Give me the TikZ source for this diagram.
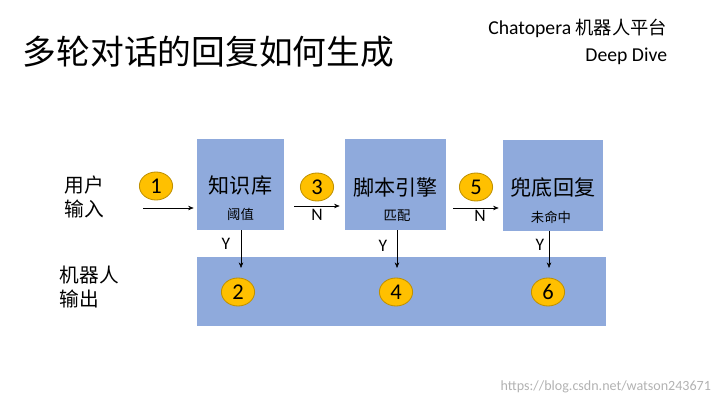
\documentclass[tikz,border=0pt]{standalone}
\usepackage{fontspec}
\setmainfont{Carlito}
\newfontfamily\cjk{Noto Sans CJK SC}
\usetikzlibrary{shapes.geometric,positioning,arrows.meta}
\definecolor{boxblue}{HTML}{8FAADC}
\definecolor{numfill}{HTML}{FFC000}
\definecolor{numedge}{HTML}{BF9000}

\begin{document}
\begin{tikzpicture}[x=0.025cm,y=-0.025cm,>={Stealth[length=4pt,width=3.2pt]},
  blk/.style={fill=boxblue,inner sep=0pt,minimum height=2.275cm},
  num/.style={ellipse,fill=numfill,draw=numedge,semithick,inner sep=0pt,
    minimum width=0.83cm,minimum height=0.7cm,font=\fontsize{16}{16}\selectfont},
  main/.style={font=\cjk\fontsize{15}{15}\selectfont},
  sub/.style={font=\cjk\fontsize{9.5}{10}\selectfont},
  side/.style={font=\cjk\fontsize{14}{17}\selectfont,align=left,anchor=west},
  yn/.style={font=\fontsize{12.5}{12.5}\selectfont},
  flow/.style={->,thin}]
  \useasboundingbox (0,0) rectangle (723,406);

  % title and platform
  \node[anchor=west,font=\cjk\fontsize{24}{24}\selectfont] (title) at (18,52) {多轮对话的回复如何生成};
  \node[anchor=east,font=\fontsize{14}{14}\selectfont] (plat) at (672,28) {Chatopera {\cjk\fontsize{13}{13}\selectfont 机器人平台}};
  \node[anchor=east,font=\fontsize{14}{14}\selectfont] (dive) at (672,56) {Deep Dive};

  % blocks
  \node[blk,minimum width=2.175cm] (kb) at (240.5,184.5) {};
  \node[blk,minimum width=2.525cm] (se) at (395.5,184.5) {};
  \node[blk,minimum width=2.5cm] (fb) at (553,185.5) {};
  \node[fill=boxblue,minimum width=10.225cm,minimum height=1.725cm] (out) at (401.5,291.5) {};

  \node[main] (kbt) at (240.5,186) {知识库};
  \node[sub] (kbs) at (240.5,214) {阈值};
  \node[main] (set) at (395.5,187) {脚本引擎};
  \node[sub] (ses) at (397,216) {匹配};
  \node[main] (fbt) at (553,187) {兜底回复};
  \node[sub] (fbs) at (551,217) {未命中};

  % side labels
  \node[side] (usr) at (60,197) {用户\\输入};
  \node[side] (bot) at (55,287) {机器人\\输出};

  % steps
  \node[num] (n1) at (156,186) {1};
  \node[num] (n3) at (317,187) {3};
  \node[num] (n5) at (476,187) {5};
  \node[num] (n2) at (238,292) {2};
  \node[num] (n4) at (396,292) {4};
  \node[num] (n6) at (548,292) {6};

  \coordinate (src) at (143,208);
  \draw[flow,shorten >=0.075cm] (src) -- (kb.west |- src);
  \draw[flow,shorten <=0.25cm,shorten >=0.125cm] (kb.east |- 0,206) -- (se.west |- 0,206);
  \draw[flow,shorten <=0.175cm,shorten >=0.1cm] (se.east |- 0,208) -- (fb.west |- 0,208);
  \node[yn] (na) at (317,215) {N};
  \node[yn] (nb) at (480,216) {N};

  \draw[flow,shorten >=0.25cm] (kb.south -| 241,0) -- (241,278);
  \draw[flow,shorten >=0.25cm] (se.south -| 397,0) -- (397,278);
  \draw[flow,shorten >=0.25cm] (fb.south -| 549,0) -- (549,278);
  \node[yn] (ya) at (226,244) {Y};
  \node[yn] (yb) at (383,246) {Y};
  \node[yn] (yc) at (540,245) {Y};

  \node[anchor=east,text=black!30,font=\fontsize{10}{10}\selectfont] (wm) at (716,387) {https://blog.csdn.net/watson243671};
\end{tikzpicture}
\end{document}
